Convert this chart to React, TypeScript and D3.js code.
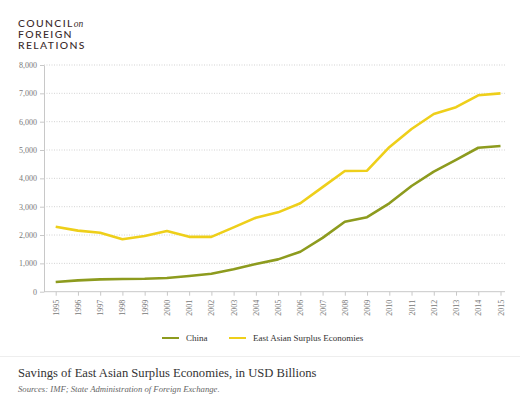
import { useEffect, useRef } from 'react';
import * as d3 from 'd3';

const years = [1995, 1996, 1997, 1998, 1999, 2000, 2001, 2002, 2003, 2004, 2005, 2006, 2007, 2008, 2009, 2010, 2011, 2012, 2013, 2014, 2015];
const china = [340, 400, 435, 448, 455, 485, 555, 635, 790, 975, 1140, 1410, 1900, 2470, 2630, 3120, 3730, 4235, 4650, 5080, 5140];
const eastAsia = [2295, 2155, 2080, 1850, 1965, 2140, 1935, 1935, 2270, 2610, 2800, 3120, 3690, 4260, 4270, 5100, 5740, 6270, 6510, 6930, 7000];
const yTicks = [0, 1000, 2000, 3000, 4000, 5000, 6000, 7000, 8000];

const seriesList = [
  { name: 'China', values: china, color: '#8d9b1e' },
  { name: 'East Asian Surplus Economies', values: eastAsia, color: '#eecf1a' },
];

const App = () => {
  const svgRef = useRef<SVGSVGElement>(null);

  useEffect(() => {
    if (!svgRef.current) return;
    const width = 520;
    const height = 411;
    const svg = d3.select(svgRef.current);
    svg.selectAll('*').remove();
    svg.attr('width', width).attr('height', height);

    const serif = '"Liberation Serif", "DejaVu Serif", serif';
    const left = 44;
    const right = 505;

    // Logo
    const logo = svg.append('g')
      .attr('fill', '#3b2b2c')
      .style('font-family', 'Lato, "Open Sans", sans-serif')
      .style('font-weight', '500')
      .style('font-size', '10.4px')
      .style('letter-spacing', '1.4px');
    const council = logo.append('text').attr('x', 18).attr('y', 27).text('COUNCIL');
    const cEnd = 18 + ((council.node() as SVGTextElement).getComputedTextLength() || 50);
    logo.append('text')
      .attr('x', cEnd)
      .attr('y', 27)
      .style('font-family', serif)
      .style('font-style', 'italic')
      .style('font-weight', '400')
      .style('letter-spacing', '0px')
      .style('font-size', '9.5px')
      .text('on');
    logo.append('text').attr('x', 18).attr('y', 38).text('FOREIGN');
    logo.append('text').attr('x', 18).attr('y', 49).text('RELATIONS');

    const x = d3.scaleLinear().domain([1995, 2015]).range([55.7, 500.5]);
    const y = d3.scaleLinear().domain([0, 8000]).range([291.7, 65]);

    // Grid lines
    svg.append('g')
      .selectAll('line')
      .data(yTicks.filter(d => d > 0))
      .enter()
      .append('line')
      .attr('x1', left)
      .attr('x2', right)
      .attr('y1', d => y(d))
      .attr('y2', d => y(d))
      .attr('stroke', '#c8c8c8')
      .attr('stroke-width', 0.8)
      .attr('stroke-dasharray', '1,1.5');

    // Y axis
    const yAxis = svg.append('g')
      .attr('transform', `translate(${left},0)`)
      .call(d3.axisLeft(y).tickValues(yTicks).tickSize(4).tickSizeOuter(0).tickPadding(3).tickFormat(d3.format(',')));
    yAxis.select('.domain').attr('stroke', '#c8c8c8');
    yAxis.selectAll('.tick line').attr('stroke', '#c8c8c8');
    yAxis.selectAll('.tick text')
      .attr('fill', '#777')
      .style('font-family', serif)
      .style('font-size', '8px');

    // X axis
    const xAxis = svg.append('g')
      .attr('transform', `translate(0,${y(0)})`)
      .call(d3.axisBottom(x).tickValues(years).tickSize(4).tickSizeOuter(0).tickFormat(d3.format('d')));
    xAxis.select('.domain').remove();
    xAxis.append('line')
      .attr('x1', left).attr('x2', right)
      .attr('stroke', '#c8c8c8');
    xAxis.selectAll('.tick line').attr('stroke', '#c8c8c8');
    xAxis.selectAll('.tick text')
      .attr('fill', '#777')
      .attr('transform', 'rotate(-90)')
      .attr('x', -8)
      .attr('y', 0)
      .attr('dy', '0.32em')
      .attr('text-anchor', 'end')
      .style('font-family', serif)
      .style('font-size', '8px');

    // Lines
    const line = d3.line<number>()
      .x((_, i) => x(years[i]))
      .y(d => y(d));

    seriesList.slice().reverse().forEach(s => {
      svg.append('path')
        .datum(s.values)
        .attr('fill', 'none')
        .attr('stroke', s.color)
        .attr('stroke-width', 2.6)
        .attr('stroke-linejoin', 'round')
        .attr('d', line);
    });

    // Legend
    const legendX = [162, 229];
    seriesList.forEach((s, i) => {
      const row = svg.append('g').attr('transform', `translate(${legendX[i]},338)`);
      row.append('line')
        .attr('x1', 0).attr('x2', 17)
        .attr('stroke', s.color)
        .attr('stroke-width', 2);
      row.append('text')
        .attr('x', 24)
        .attr('y', 3)
        .attr('fill', '#333')
        .style('font-family', serif)
        .style('font-size', '9px')
        .text(s.name);
    });

    // Separator and caption
    svg.append('line')
      .attr('x1', 0).attr('x2', width)
      .attr('y1', 356.5).attr('y2', 356.5)
      .attr('stroke', '#eeeeee');

    svg.append('text')
      .attr('x', 18)
      .attr('y', 377)
      .attr('fill', '#333')
      .style('font-family', serif)
      .style('font-size', '12.6px')
      .text('Savings of East Asian Surplus Economies, in USD Billions');

    svg.append('text')
      .attr('x', 18)
      .attr('y', 392)
      .attr('fill', '#666')
      .style('font-family', serif)
      .style('font-style', 'italic')
      .style('font-size', '8.7px')
      .text('Sources: IMF; State Administration of Foreign Exchange.');
  }, []);

  return (
    <div style={{ position: 'fixed', left: 0, top: 0, background: '#fff' }}>
      <svg ref={svgRef} style={{ display: 'block' }} />
    </div>
  );
};

export default App;
